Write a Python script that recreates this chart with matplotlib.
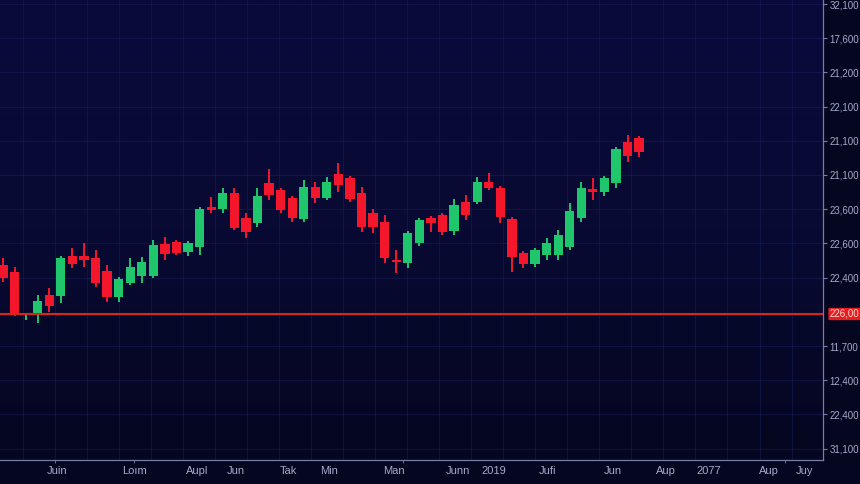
import numpy as np
import matplotlib
matplotlib.use("Agg")
import matplotlib.pyplot as plt
from matplotlib.colors import LinearSegmentedColormap

# candle data (price units, arbitrary scale)
opens = [195, 188, 145, 145, 165, 164, 204, 204, 202, 189,
         163, 177, 184, 184, 216, 218, 208, 213, 253, 251,
         267, 242, 237, 277, 270, 262, 241, 273, 262, 286,
         282, 267, 247, 238, 200, 197, 217, 242, 245, 229,
         258, 258, 278, 272, 241, 207, 196, 205, 205, 213,
         242, 271, 268, 277, 318, 322]
closes = [182, 145, 146, 159, 154, 202, 196, 200, 177, 163,
          181, 193, 198, 215, 206, 207, 217, 251, 250, 267,
          232, 228, 264, 265, 250, 242, 273, 262, 278, 275,
          261, 233, 233, 202, 198, 227, 240, 237, 228, 255,
          245, 278, 272, 243, 203, 196, 210, 217, 225, 249,
          272, 268, 282, 311, 304, 308]
highs = [202, 193, 147, 165, 172, 204, 212, 217, 210, 195,
         183, 202, 203, 220, 223, 220, 219, 253, 263, 272,
         272, 247, 272, 291, 272, 264, 280, 278, 283, 297,
         284, 273, 251, 245, 210, 229, 242, 244, 247, 261,
         265, 283, 287, 274, 243, 209, 212, 222, 230, 257,
         278, 282, 284, 313, 325, 324]
lows = [178, 144, 140, 137, 148, 157, 192, 193, 173, 158,
        158, 175, 177, 182, 200, 205, 204, 205, 247, 247,
        230, 222, 233, 260, 247, 238, 238, 257, 260, 268,
        258, 228, 227, 197, 187, 192, 214, 228, 225, 225,
        240, 256, 270, 237, 188, 192, 193, 200, 200, 210,
        238, 260, 264, 272, 298, 303]
last_price = 146

right_labels = ["32,100", "17,600", "21,200", "22,100", "21,100", "21,100",
                "23,600", "22,600", "22,400", "11,700", "12,400", "22,400",
                "31,100"]
last_label = "226,00"
x_labels = ["Juin", "Loım", "Aupl", "Jun", "Tak", "Min", "Man", "Junn",
            "2019", "Jufi", "Jun", "Aup", "2077", "Aup", "Juy"]
x_label_pos = [4.7, 11.4, 16.8, 20.1, 24.7, 28.2, 33.8, 39.3, 42.4, 47.1,
               52.7, 57.3, 61.0, 66.2, 69.3]

up_col = "#1fc66b"
down_col = "#f4172c"
text_col = "#a4aacb"
font = ["Liberation Sans", "DejaVu Sans"]

fig = plt.figure(figsize=(8.6, 4.84), dpi=100)
fig.patch.set_facecolor("#05061f")
ax = fig.add_axes([0.0, 24 / 484, 823 / 860, 460 / 484])

xmin, xmax = -0.26, 70.9
ymin, ymax = 0, 460
ax.set_xlim(xmin, xmax)
ax.set_ylim(ymin, ymax)

# background gradient
cmap = LinearSegmentedColormap.from_list("bg", ["#05061f", "#080a33", "#090b3b"])
grad = np.linspace(0, 1, 256).reshape(-1, 1)
ax.imshow(grad, extent=[xmin, xmax, ymin, ymax], origin="lower",
          cmap=cmap, aspect="auto", zorder=0)

# grid
yticks = [456 - 34.2 * k for k in range(14) if k != 9]
for y in yticks:
    ax.axhline(y, color="#161c58", lw=0.8, alpha=0.6, zorder=1)
for x in np.arange(1.7, xmax, 2.77):
    ax.axvline(x, color="#161c58", lw=0.8, alpha=0.6, zorder=1)

# candles
idx = np.arange(len(opens))
o = np.array(opens)
c = np.array(closes)
cols = [up_col if cc >= oo else down_col for oo, cc in zip(o, c)]
ax.vlines(idx, lows, highs, colors=cols, lw=1.4, zorder=3)
bottoms = np.minimum(o, c)
heights = np.maximum(np.abs(c - o), 2)
ax.bar(idx, heights, bottom=bottoms, width=0.8, color=cols, zorder=4)

# last price line
ax.axhline(last_price, color="#d8261b", lw=1.5, zorder=5)

# axes styling
for s in ["top", "left"]:
    ax.spines[s].set_visible(False)
ax.spines["right"].set_color("#767da6")
ax.spines["bottom"].set_color("#767da6")
ax.spines["right"].set_linewidth(0.9)
ax.spines["bottom"].set_linewidth(0.9)

ax.yaxis.tick_right()
ax.set_yticks(yticks)
ax.set_yticklabels(right_labels, fontfamily=font)
ax.tick_params(axis="y", colors="#767da6", labelsize=7, length=3, pad=1.5,
               labelcolor=text_col)

ax.set_xticks(x_label_pos)
ax.set_xticklabels(x_labels, fontfamily=font)
ax.tick_params(axis="x", colors=text_col, labelsize=8, length=0, pad=4)
ax.set_xticks([4.5, 11.3, 34.6, 52.7, 67.6], minor=True)
ax.tick_params(axis="x", which="minor", length=2, color="#767da6")

ax.text(1.008, last_price, last_label, transform=ax.get_yaxis_transform(),
        va="center", ha="left", fontsize=7, color="#ffd6d6", family=font,
        bbox=dict(boxstyle="round,pad=0.12", fc="#e81e1e", ec="none"),
        zorder=6, clip_on=False)

fig.savefig("out.png", dpi=100, facecolor=fig.get_facecolor())
